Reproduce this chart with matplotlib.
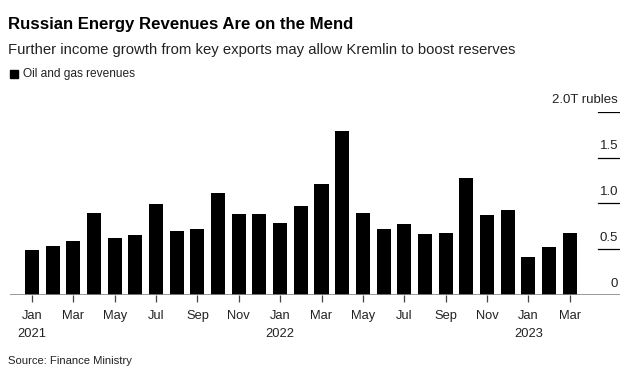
import matplotlib
matplotlib.use("Agg")
import matplotlib.pyplot as plt
import matplotlib.transforms as mtransforms

plt.rcParams['font.family'] = ['Liberation Sans', 'DejaVu Sans']

# monthly oil and gas revenues, trillion rubles, Jan 2021 - Mar 2023
months = ["Jan", "Feb", "Mar", "Apr", "May", "Jun", "Jul", "Aug", "Sep", "Oct", "Nov", "Dec",
          "Jan", "Feb", "Mar", "Apr", "May", "Jun", "Jul", "Aug", "Sep", "Oct", "Nov", "Dec",
          "Jan", "Feb", "Mar"]
revenues = [0.49, 0.54, 0.59, 0.89, 0.62, 0.65, 0.99, 0.70, 0.72, 1.11, 0.88, 0.88,
            0.79, 0.97, 1.21, 1.79, 0.89, 0.72, 0.77, 0.67, 0.68, 1.28, 0.87, 0.93,
            0.42, 0.52, 0.68]
years = {0: "2021", 12: "2022", 24: "2023"}
yticks = [0, 0.5, 1.0, 1.5, 2.0]
ylabels = ["0", "0.5", "1.0", "1.5", "2.0T rubles"]

W, H = 628, 385
fig = plt.figure(figsize=(W / 100, H / 100), dpi=100)
ax = fig.add_axes([10 / W, 90 / H, 610 / W, (295 - 111.7) / H])

x = list(range(len(revenues)))
ax.bar(x, revenues, width=0.68, color="black", zorder=2)
ax.set_xlim(-1.06, 28.43)
ax.set_ylim(0, 2.0)

for s in ax.spines.values():
    s.set_visible(False)
ax.axhline(0, color="#888888", lw=1.2, zorder=3)

# short gridline stubs at right with labels above
tr = mtransforms.blended_transform_factory(ax.transAxes, ax.transData)
for v, lab in zip(yticks, ylabels):
    if v > 0:
        ax.axhline(v, xmin=0.964, xmax=1.0, color="black", lw=0.9)
    ax.text(0.997, v + 0.06, lab, transform=tr, ha="right", va="bottom",
            fontsize=9.5, color="#222222")

ax.set_yticks([])
tick_pos = x[::2]
ax.set_xticks(tick_pos)
labels = []
for i in tick_pos:
    lab = months[i]
    if i in years:
        lab += "\n" + years[i]
    labels.append(lab)
ax.set_xticklabels(labels, fontsize=9.3, color="#222222", linespacing=1.6, va="top")
ax.tick_params(axis="x", length=5, width=0.9, color="#444444", pad=6)

fig.text(8 / W, 1 - 25 / H, "Russian Energy Revenues Are on the Mend", fontsize=12.1,
         fontweight="bold", va="center", ha="left")
fig.text(8 / W, 1 - 50 / H, "Further income growth from key exports may allow Kremlin to boost reserves",
         fontsize=10.7, va="center", ha="left", color="#222222")
fig.patches.append(plt.Rectangle((10 / W, 1 - 77.5 / H), 7.5 / W, 7.5 / H, color="black",
                                 transform=fig.transFigure, figure=fig))
fig.text(23 / W, 1 - 73.5 / H, "Oil and gas revenues", fontsize=8.6, va="center", ha="left",
         color="#222222")
fig.text(8 / W, 1 - 360.5 / H, "Source: Finance Ministry", fontsize=8.1, va="center", ha="left",
         color="#222222")

fig.savefig("out.png", dpi=100)
